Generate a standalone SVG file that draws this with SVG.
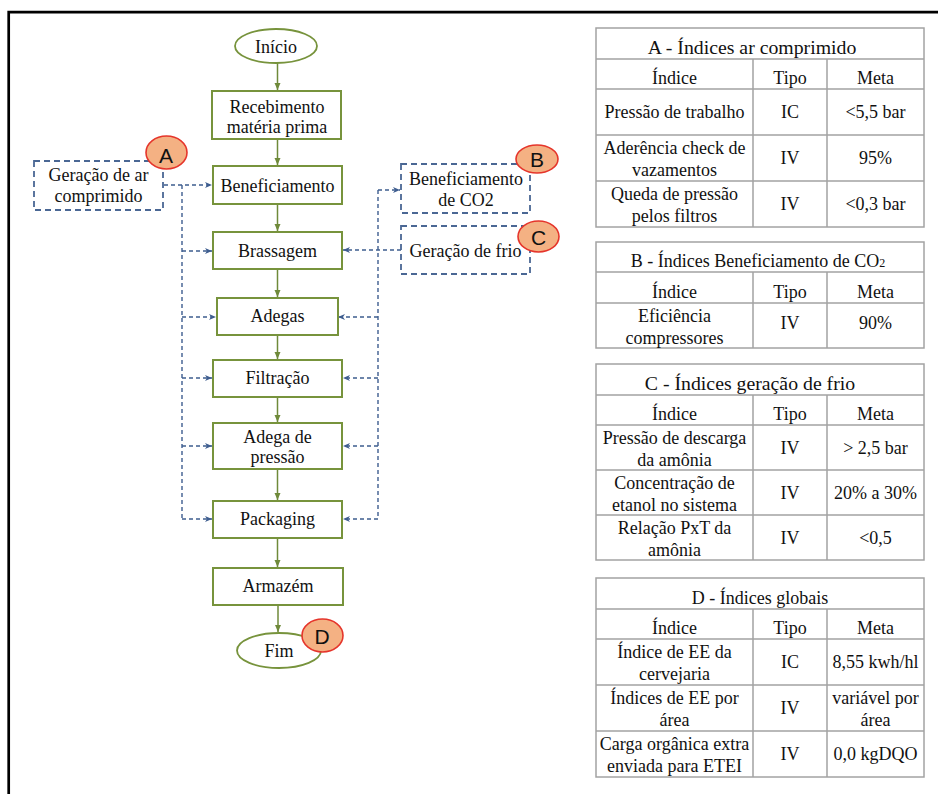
<svg xmlns="http://www.w3.org/2000/svg" width="938" height="794" viewBox="0 0 938 794">
<defs>
<style>
.bx{fill:#fff;stroke:#77933c;stroke-width:2}
.el{fill:#fff;stroke:#77933c;stroke-width:1.8}
.db{fill:#fff;stroke:#4a6794;stroke-width:1.8;stroke-dasharray:6 4}
.fl{fill:none;stroke:#6f8a3a;stroke-width:1.5}
.dl{fill:none;stroke:#3e5d8f;stroke-width:1.4;stroke-dasharray:4 3}
.bd{fill:#f4b183;stroke:#e5352b;stroke-width:1.6}
.bl{font-family:"Liberation Sans",Arial,sans-serif;font-size:21px;fill:#111;text-anchor:middle}
.tx{font-family:"Liberation Serif","Times New Roman",serif;font-size:18px;fill:#111;text-anchor:middle}
.tt{font-size:19.8px}
.tb{fill:none;stroke:#a3a3a3;stroke-width:1.5}
</style>
<marker id="ga" markerWidth="8" markerHeight="8" refX="7" refY="4" orient="auto" markerUnits="userSpaceOnUse"><path d="M0,1 L7,4 L0,7 z" fill="#6f8a3a"/></marker>
<marker id="ba" markerWidth="8" markerHeight="8" refX="7" refY="4" orient="auto" markerUnits="userSpaceOnUse"><path d="M0,1 L7,4 L0,7 L2,4 z" fill="#3e5d8f"/></marker>
</defs>
<rect width="938" height="794" fill="#fff"/>
<path d="M8.7,794 V12.2 H938" fill="none" stroke="#000" stroke-width="2.7"/>

<g id="connectors">
<path class="fl" d="M277.5,63 V90" marker-end="url(#ga)"/>
<path class="fl" d="M277.5,139 V165" marker-end="url(#ga)"/>
<path class="fl" d="M277.5,204 V231" marker-end="url(#ga)"/>
<path class="fl" d="M277.5,269 V297" marker-end="url(#ga)"/>
<path class="fl" d="M277.5,335 V359" marker-end="url(#ga)"/>
<path class="fl" d="M277.5,397 V422" marker-end="url(#ga)"/>
<path class="fl" d="M277.5,469 V500" marker-end="url(#ga)"/>
<path class="fl" d="M277.5,538 V567" marker-end="url(#ga)"/>
<path class="fl" d="M278,605 V632" marker-end="url(#ga)"/>
<path class="dl" d="M164,185 H212" marker-end="url(#ba)"/>
<path class="dl" d="M182,185 V519"/>
<path class="dl" d="M182,251 H212" marker-end="url(#ba)"/>
<path class="dl" d="M182,317 H216" marker-end="url(#ba)"/>
<path class="dl" d="M182,378 H212" marker-end="url(#ba)"/>
<path class="dl" d="M182,446 H212" marker-end="url(#ba)"/>
<path class="dl" d="M182,519 H212" marker-end="url(#ba)"/>
<path class="dl" d="M378,190 V519"/>
<path class="dl" d="M378,190 H400" marker-end="url(#ba)"/>
<path class="dl" d="M401,250 H343" marker-end="url(#ba)"/>
<path class="dl" d="M378,317 H338" marker-end="url(#ba)"/>
<path class="dl" d="M378,378 H343" marker-end="url(#ba)"/>
<path class="dl" d="M378,446 H343" marker-end="url(#ba)"/>
<path class="dl" d="M378,519 H343" marker-end="url(#ba)"/>
</g>

<g id="inicio"><ellipse class="el" cx="276" cy="46" rx="41" ry="17"/><text class="tx" x="276" y="53">Início</text></g>
<g id="recebimento"><rect class="bx" x="212" y="91" width="129" height="48"/><text class="tx" x="277" y="113">Recebimento</text><text class="tx" x="277" y="133">matéria prima</text></g>
<g id="beneficiamento"><rect class="bx" x="213" y="166" width="129" height="38"/><text class="tx" x="277.5" y="192">Beneficiamento</text></g>
<g id="brassagem"><rect class="bx" x="213" y="232" width="129" height="37"/><text class="tx" x="277.5" y="257">Brassagem</text></g>
<g id="adegas"><rect class="bx" x="217" y="298" width="121" height="37"/><text class="tx" x="277.5" y="322">Adegas</text></g>
<g id="filtracao"><rect class="bx" x="213" y="360" width="129" height="37"/><text class="tx" x="277.5" y="384">Filtração</text></g>
<g id="adega-pressao"><rect class="bx" x="213" y="423" width="129" height="46"/><text class="tx" x="277.5" y="443">Adega de</text><text class="tx" x="277.5" y="463">pressão</text></g>
<g id="packaging"><rect class="bx" x="213" y="501" width="129" height="37"/><text class="tx" x="277.5" y="525">Packaging</text></g>
<g id="armazem"><rect class="bx" x="213" y="568" width="130" height="37"/><text class="tx" x="278" y="592">Armazém</text></g>
<g id="fim"><ellipse class="el" cx="279" cy="650.5" rx="42" ry="17.5"/><text class="tx" x="279" y="657">Fim</text></g>

<g id="ar-comprimido"><rect class="db" x="34" y="161" width="129" height="49"/><text class="tx" x="98.5" y="181">Geração de ar</text><text class="tx" x="98.5" y="202">comprimido</text></g>
<g id="co2"><rect class="db" x="401" y="164" width="129" height="49"/><text class="tx" x="466" y="185">Beneficiamento</text><text class="tx" x="466" y="206">de CO2</text></g>
<g id="frio"><rect class="db" x="401" y="226" width="129" height="48"/><text class="tx" x="465.5" y="257">Geração de frio</text></g>

<g id="badge-a"><ellipse class="bd" cx="166.5" cy="152.5" rx="20.5" ry="16.5"/><text class="bl" x="166" y="163">A</text></g>
<g id="badge-b"><ellipse class="bd" cx="537" cy="159" rx="21" ry="14"/><text class="bl" x="537" y="167">B</text></g>
<g id="badge-c"><ellipse class="bd" cx="538.5" cy="236.5" rx="20.5" ry="15.5"/><text class="bl" x="538.5" y="245">C</text></g>
<g id="badge-d"><ellipse class="bd" cx="322.5" cy="635.5" rx="20.5" ry="16.5"/><text class="bl" x="322" y="644">D</text></g>

<g id="table-a">
<rect class="tb" x="596" y="28" width="328" height="199"/>
<path class="tb" d="M596,59 H924 M596,89 H924 M596,135 H924 M596,181 H924 M753,59 V227 M827,59 V227"/>
<text class="tx tt" x="752" y="54">A - Índices ar comprimido</text>
<text class="tx" x="674.5" y="84">Índice</text><text class="tx" x="790" y="84">Tipo</text><text class="tx" x="875.5" y="84">Meta</text>
<text class="tx" x="674.5" y="118">Pressão de trabalho</text><text class="tx" x="790" y="118">IC</text><text class="tx" x="875.5" y="118">&lt;5,5 bar</text>
<text class="tx" x="674.5" y="154">Aderência check de</text><text class="tx" x="674.5" y="176">vazamentos</text><text class="tx" x="790" y="164">IV</text><text class="tx" x="875.5" y="164">95%</text>
<text class="tx" x="674.5" y="200">Queda de pressão</text><text class="tx" x="674.5" y="222">pelos filtros</text><text class="tx" x="790" y="210">IV</text><text class="tx" x="875.5" y="210">&lt;0,3 bar</text>
</g>

<g id="table-b">
<rect class="tb" x="596" y="242" width="328" height="106"/>
<path class="tb" d="M596,272 H924 M596,303 H924 M753,272 V348 M827,272 V348"/>
<text class="tx" x="758" y="267" font-size="18.4">B - Índices Beneficiamento de CO<tspan font-size="12">2</tspan></text>
<text class="tx" x="674.5" y="298">Índice</text><text class="tx" x="790" y="298">Tipo</text><text class="tx" x="875.5" y="298">Meta</text>
<text class="tx" x="674.5" y="322">Eficiência</text><text class="tx" x="674.5" y="344">compressores</text><text class="tx" x="790" y="329">IV</text><text class="tx" x="875.5" y="329">90%</text>
</g>

<g id="table-c">
<rect class="tb" x="596" y="364" width="328" height="196"/>
<path class="tb" d="M596,395 H924 M596,425 H924 M596,470 H924 M596,515 H924 M753,395 V560 M827,395 V560"/>
<text class="tx tt" x="750" y="390">C - Índices geração de frio</text>
<text class="tx" x="674.5" y="420">Índice</text><text class="tx" x="790" y="420">Tipo</text><text class="tx" x="875.5" y="420">Meta</text>
<text class="tx" x="674.5" y="444">Pressão de descarga</text><text class="tx" x="674.5" y="466">da amônia</text><text class="tx" x="790" y="454">IV</text><text class="tx" x="875.5" y="454">&gt; 2,5 bar</text>
<text class="tx" x="674.5" y="489">Concentração de</text><text class="tx" x="674.5" y="511">etanol no sistema</text><text class="tx" x="790" y="499">IV</text><text class="tx" x="875.5" y="499">20% a 30%</text>
<text class="tx" x="674.5" y="534">Relação PxT da</text><text class="tx" x="674.5" y="556">amônia</text><text class="tx" x="790" y="544">IV</text><text class="tx" x="875.5" y="544">&lt;0,5</text>
</g>

<g id="table-d">
<rect class="tb" x="596" y="578" width="328" height="199"/>
<path class="tb" d="M596,609 H924 M596,639 H924 M596,685 H924 M596,731 H924 M753,609 V777 M827,609 V777"/>
<text class="tx" x="760" y="604">D - Índices globais</text>
<text class="tx" x="674.5" y="634">Índice</text><text class="tx" x="790" y="634">Tipo</text><text class="tx" x="875.5" y="634">Meta</text>
<text class="tx" x="674.5" y="658">Índice de EE da</text><text class="tx" x="674.5" y="680">cervejaria</text><text class="tx" x="790" y="668">IC</text><text class="tx" x="875.5" y="668">8,55 kwh/hl</text>
<text class="tx" x="674.5" y="704">Índices de EE por</text><text class="tx" x="674.5" y="726">área</text><text class="tx" x="790" y="714">IV</text><text class="tx" x="875.5" y="704">variável por</text><text class="tx" x="875.5" y="726">área</text>
<text class="tx" x="674.5" y="750">Carga orgânica extra</text><text class="tx" x="674.5" y="772">enviada para ETEI</text><text class="tx" x="790" y="760">IV</text><text class="tx" x="875.5" y="760">0,0 kgDQO</text>
</g>
</svg>
